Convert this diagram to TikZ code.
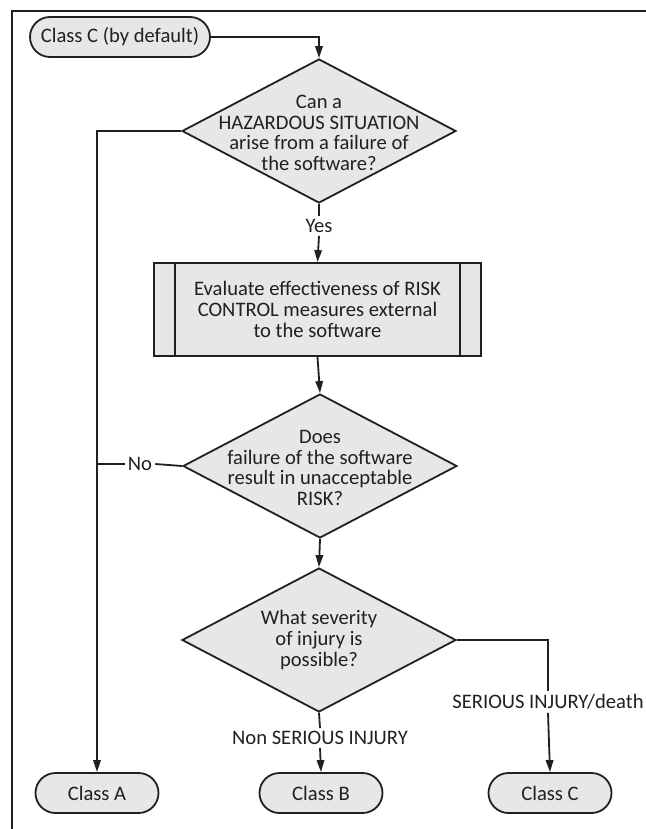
\documentclass[tikz,border=0pt]{standalone}
\usepackage{fontspec}
\setmainfont{Carlito}
\usetikzlibrary{shapes.geometric,shapes.misc,arrows.meta}
\definecolor{fillg}{HTML}{E6E7E8}
\definecolor{ink}{HTML}{231F20}
\begin{document}
\begin{tikzpicture}[x=1pt,y=-1pt,
  every node/.style={font=\fontsize{20.6}{20.6}\selectfont, text=ink},
  pill/.style={rounded rectangle, draw=ink, line width=1.8pt, fill=fillg, minimum width=123pt, minimum height=40pt, inner sep=0pt},
  dia/.style={diamond, draw=ink, line width=1.8pt, fill=fillg, minimum width=274pt, minimum height=144pt, inner sep=0pt},
  procbox/.style={rectangle, draw=ink, line width=1.8pt, fill=fillg, minimum width=327pt, minimum height=93pt, inner sep=0pt},
  txt/.style={align=center, inner sep=0pt},
  lbl/.style={inner sep=3pt},
  ln/.style={draw=ink, line width=1.8pt},
  arr/.style={ln, -{Triangle[length=12pt,width=7.5pt]}}
]
\useasboundingbox (0,0) rectangle (645,829);
% frame
\coordinate (fTR) at (646,11);
\coordinate (fTL) at (12,11);
\coordinate (fBL) at (12,830);
\draw[ink, line width=2.2pt] (fTR) -- (fTL) -- (fBL);

\node[pill, minimum width=180pt] (start) at (120,37) {Class C (by default)};

\node[dia] (d1) at (319,131) {};
\node[txt] (t1) at (319,133) {Can a\\HAZARDOUS SITUATION\\arise from a failure of\\the software?};
\node[lbl] (yes) at (319,226) {Yes};

\node[procbox] (box) at (317.5,309.5) {};
\node[txt] (tb) at (317.5,309.5) {Evaluate effectiveness of RISK\\CONTROL measures external\\to the software};

\node[dia] (d2) at (320,466) {};
\node[txt] (t2) at (320,468) {Does\\failure of the software\\result in unacceptable\\RISK?};
\node[lbl] (no) at (140,464) {No};

\node[dia] (d3) at (319,640) {};
\node[txt] (t3) at (319,640) {What severity\\of injury is\\possible?};
\node[lbl] (nonser) at (320,738) {Non SERIOUS INJURY};
\node[lbl] (ser) at (548,702) {SERIOUS INJURY/death};

\node[pill] (classA) at (97,793) {Class A};
\node[pill] (classB) at (321,793) {Class B};
\node[pill] (classC) at (550,793) {Class C};

% inner lines of the process box
\draw[ln] ([xshift=22pt]box.north west) -- ([xshift=22pt]box.south west);
\draw[ln] ([xshift=-22pt]box.north east) -- ([xshift=-22pt]box.south east);

% connectors
\draw[arr] (start.east) -| (d1.north);
\draw[ln] (d1.south) -- (yes.north);
\draw[arr] (yes.south) -- (box.north);
\draw[arr] (box.south) -- (d2.north);
\draw[arr] (d1.west) -| (classA.north);
\draw[ln] (d2.west) -- (no.east);
\draw[ln] (no.west) -- (no.west -| classA.north);
\draw[arr] (d2.south) -- (d3.north);
\draw[ln] (d3.south) -- (nonser.north);
\draw[arr] (nonser.south) -- (classB.north);
\draw[ln] (d3.east) -| (ser.north);
\draw[arr] (ser.south) -- (classC.north);
\end{tikzpicture}
\end{document}
